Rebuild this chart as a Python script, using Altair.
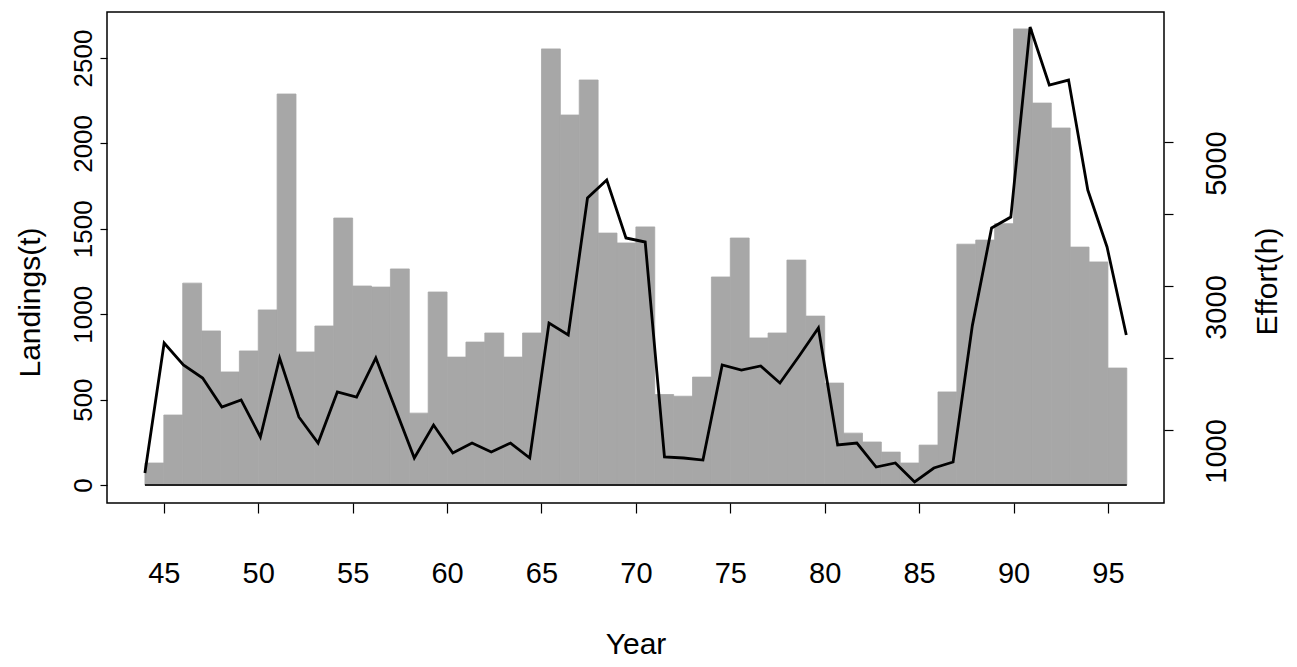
import altair as alt
import pandas as pd

# Year (two-digit, as on the axis), one value per year 44..95
years = list(range(44, 96))

# Landings (t) – grey bars
landings = [129, 410, 1182, 902, 662, 785, 1025, 2289, 779, 931,
            1563, 1165, 1159, 1265, 421, 1130, 749, 837, 890, 749,
            890, 2553, 2166, 2371, 1475, 1417, 1511, 530, 520, 632,
            1218, 1446, 861, 890, 1317, 989, 597, 304, 252, 193,
            129, 234, 545, 1410, 1434, 1530, 2670, 2236, 2090, 1393,
            1306, 685]

# Effort (h) – black line
effort = [403, 2208, 1903, 1722, 1319, 1417, 903, 2000, 1181, 819,
          1528, 1458, 2000, 1306, 611, 1069, 681, 819, 694, 819,
          611, 2486, 2319, 4222, 4472, 3667, 3611, 625, 611, 583,
          1903, 1833, 1889, 1653, 2028, 2417, 792, 819, 486, 542,
          278, 472, 556, 2450, 3806, 3958, 6597, 5792, 5861, 4333,
          3542, 2319]

x_ticks = [45, 50, 55, 60, 65, 70, 75, 80, 85, 90, 95]
left_ticks = [0, 500, 1000, 1500, 2000, 2500]
right_ticks = [1000, 2000, 3000, 4000, 5000]

df = pd.DataFrame({"Year": years, "Landings": landings, "Effort": effort})

FONT = "Liberation Sans"
BAR = "#a7a7a7"

xbar_scale = alt.Scale(domain=[41.99, 97.97], nice=False, zero=False)
yleft_scale = alt.Scale(domain=[-105, 2769], nice=False, zero=False)

bars = (
    alt.Chart(df)
    .transform_calculate(YearEnd="datum.Year + 1")
    .mark_rect(color=BAR, stroke=BAR, strokeWidth=0.8)
    .encode(
        x=alt.X(
            "Year:Q",
            scale=xbar_scale,
            axis=alt.Axis(
                values=x_ticks, title="Year", titleFontSize=30,
                labelFontSize=29, tickSize=10, labelPadding=46,
                domain=False, labelFlush=False, labelOverlap=False,
                titleY=141, titleBaseline="middle",
            ),
        ),
        x2="YearEnd:Q",
        y=alt.Y(
            "Landings:Q",
            scale=yleft_scale,
            axis=alt.Axis(
                values=left_ticks, format="d", labelAngle=270,
                labelAlign="center", labelBaseline="bottom",
                labelFontSize=26, tickSize=7, labelPadding=4,
                domain=False, labelFlush=False, labelOverlap=False,
                title="Landings(t)", titleFontSize=30, titleAngle=270,
                titleX=-77, titleY=290, titleAlign="center",
                titleBaseline="middle",
            ),
        ),
        y2=alt.datum(0),
    )
)

baseline = (
    alt.Chart(df)
    .transform_calculate(YearEnd="datum.Year + 1")
    .transform_aggregate(x0="min(Year)", x1="max(YearEnd)")
    .mark_rule(color="#222222", strokeWidth=2)
    .encode(x=alt.X("x0:Q"), x2="x1:Q", y=alt.datum(0))
)

line = (
    alt.Chart(df)
    .mark_line(color="black", strokeWidth=2.8)
    .encode(
        x=alt.X("Year:Q",
                scale=alt.Scale(domain=[42.03, 96.96], nice=False, zero=False),
                axis=None),
        y=alt.Y(
            "Effort:Q",
            scale=alt.Scale(domain=[-14, 6806], nice=False, zero=False),
            axis=alt.Axis(
                orient="right", values=right_ticks,
                labelExpr="datum.value % 2000 == 1000 ? format(datum.value, 'd') : ''",
                labelAngle=270, labelAlign="center", labelBaseline="top",
                labelFontSize=29, tickSize=9, labelPadding=29, labelOffset=21,
                domain=False, labelFlush=False, labelOverlap=False,
                title="Effort(h)", titleFontSize=30, titleAngle=270,
                titleX=103, titleY=269, titleAlign="center",
                titleBaseline="middle",
            ),
        ),
    )
)

chart = (
    alt.layer(alt.layer(bars, baseline), line)
    .resolve_scale(x="independent", y="independent")
    .properties(
        width=1057, height=491,
        autosize=alt.AutoSizeParams(type="none"),
        padding={"left": 99, "top": 4, "right": 122, "bottom": 155},
    )
    .configure_axis(
        labelFont=FONT, titleFont=FONT, labelColor="black", titleColor="black",
        tickColor="black", tickWidth=1.2, grid=False, titleFontWeight="normal",
    )
    .configure_view(stroke="black", strokeWidth=1.5)
)

chart.save("out.html", embed_options={"renderer": "svg", "actions": False})
